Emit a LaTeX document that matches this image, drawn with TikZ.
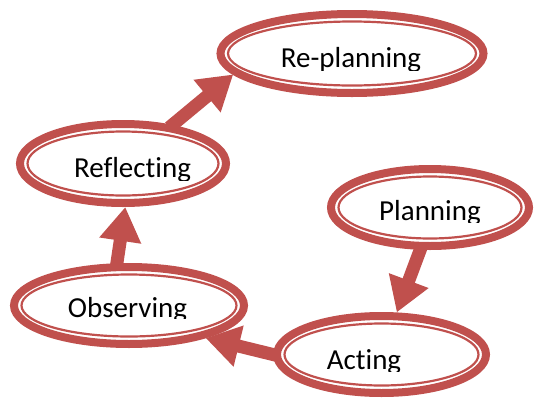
\documentclass[tikz,border=0pt]{standalone}
\usepackage{fontspec}
\setmainfont[Ligatures={NoCommon,NoRare,NoContextual}]{Carlito}
\usetikzlibrary{shapes.geometric, arrows.meta, calc}
\definecolor{ringred}{HTML}{C0504D}

\begin{document}
\begin{tikzpicture}[x=1pt, y=-1pt,
    ring/.style={ellipse, draw=ringred, line width=8pt, inner sep=0pt},
    inner ring/.style={draw=ringred, line width=2.2pt},
    stage/.style={anchor=base, inner sep=0pt, font=\fontsize{29}{34}\selectfont},
    flow/.style={draw=ringred, line width=13pt, shorten <=-4pt,
      -{Triangle[length=34pt, width=40pt]}}]
    \useasboundingbox (0,0) rectangle (536,397);%

    % Rings
    \node [ring, minimum width=263pt, minimum height=79pt] (replan) at (352,53.5) {};%
    \node [ring, minimum width=206pt, minimum height=79pt] (refl) at (123,163.5) {};%
    \node [ring, minimum width=198pt, minimum height=77pt] (plan) at (430,207.5) {};%
    \node [ring, minimum width=209pt, minimum height=77pt] (act) at (381.5,354.5) {};%
    \node [ring, minimum width=230pt, minimum height=77pt] (obs) at (129,305.5) {};%
    % -- inner lines
    \foreach \nd in {replan, refl, plan, act, obs}
      \draw [inner ring] let \p1 = ($(\nd.east)-(\nd.center)$),
        \p2 = ($(\nd.north)-(\nd.center)$) in
        (\nd.center) ellipse ({\x1-11.5pt} and {\y2-11.5pt});%

    % Labels (cut at the bottom)
    \begin{scope}
      \clip (0,30) rectangle (536,70) (0,140) rectangle (536,180)
        (0,190) rectangle (536,222) (0,285) rectangle (536,318)
        (0,335) rectangle (536,371);%
      \node [stage] (replan text) at (351,67) {Re-planning};%
      \node [stage] (refl text) at (132.5,177) {Reflecting};%
      \node [stage] (plan text) at (430,220) {Planning};%
      \node [stage] (act text) at (364,369) {Acting};%
      \node [stage] (obs text) at (127.5,317) {Observing};%
    \end{scope}

    % arrows
    \draw [flow] (plan.257) -- (act.70);%
    \draw [flow] (act.180) -- (obs.337);%
    \draw [flow] (obs.106) -- (refl.273);%
    \draw [flow] (refl.38) -- (replan.190);
  \end{tikzpicture}
\end{document}
